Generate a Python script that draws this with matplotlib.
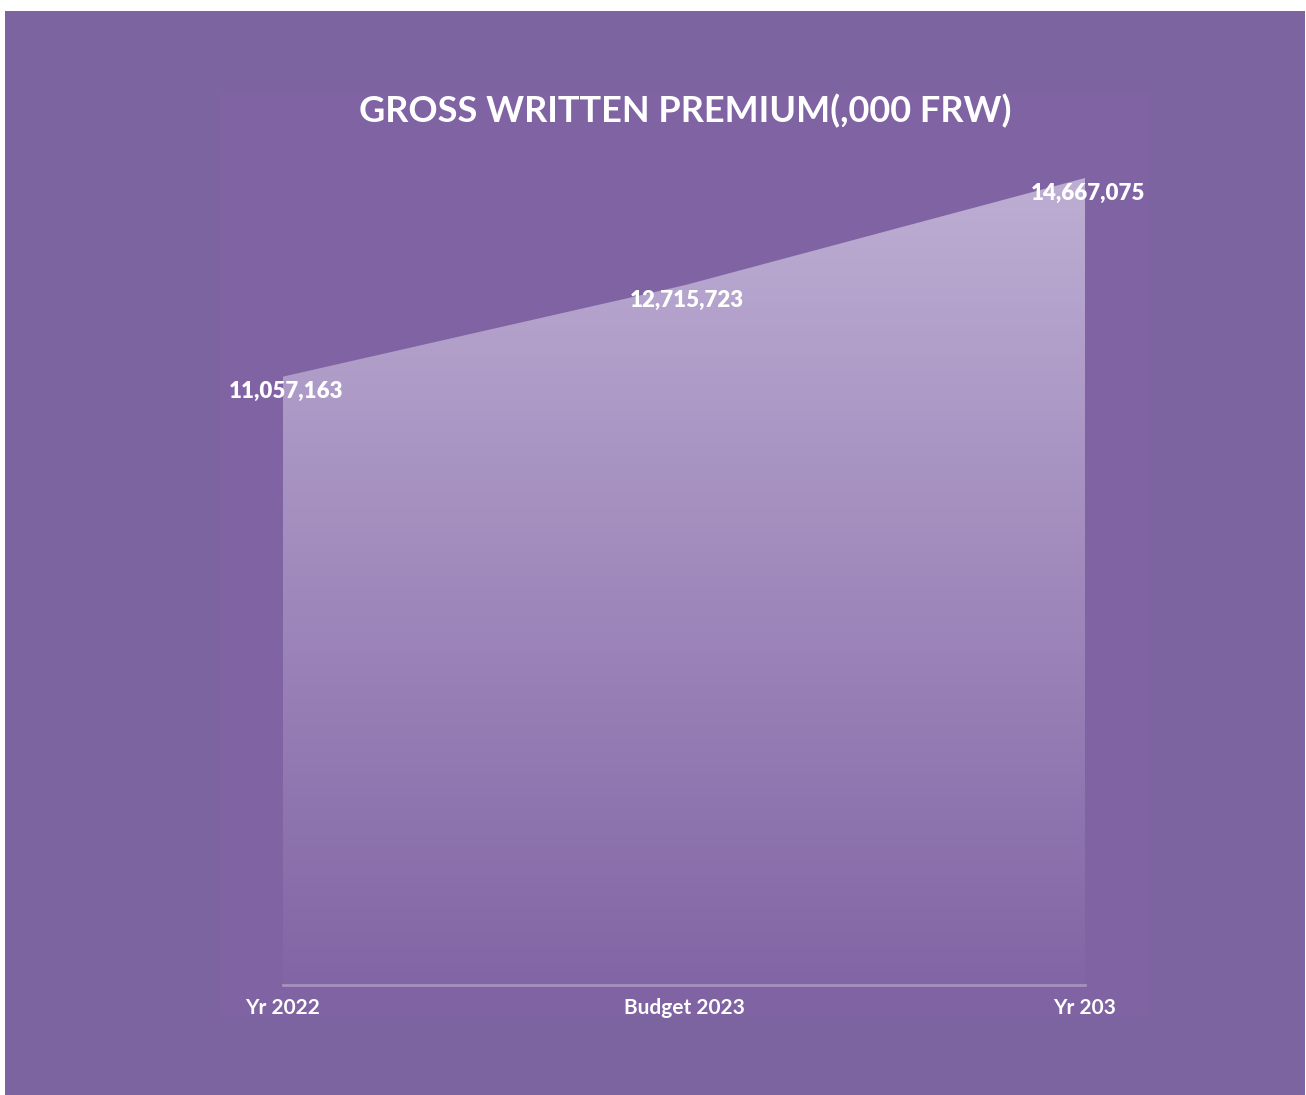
import numpy as np
import matplotlib
matplotlib.use('Agg')
import matplotlib.pyplot as plt
from matplotlib.colors import LinearSegmentedColormap
from matplotlib.patches import Rectangle

# Gross written premium, thousands of FRW
categories = ['Yr 2022', 'Budget 2023', 'Yr 203']
premium = [11057163, 12715723, 14667075]

BG = '#7B64A0'
PANEL = '#7F63A3'
TOP_FILL = '#BDAED3'
BOTTOM_FILL = '#8265A5'

plt.rcParams['font.family'] = ['Lato', 'DejaVu Sans']

fig = plt.figure(figsize=(13.06, 10.95), dpi=100)
fig.patch.set_facecolor('white')

# Purple slide background and the slightly lighter chart panel
fig.add_artist(Rectangle((5 / 1306, 0), 1300 / 1306, 1084 / 1095,
                         transform=fig.transFigure, facecolor=BG,
                         edgecolor='none', zorder=-2))
fig.add_artist(Rectangle((220 / 1306, (1095 - 1017) / 1095), 930 / 1306,
                         924 / 1095, transform=fig.transFigure,
                         facecolor=PANEL, edgecolor='none', zorder=-1))

ax = fig.add_axes([283 / 1306, 110 / 1095, 802 / 1306, 807 / 1095])
ax.set_zorder(1)
ax.set_facecolor('none')
x = np.arange(len(categories))
ax.set_xlim(0, len(categories) - 1)
ax.set_ylim(0, max(premium))

# Area with a vertical gradient, clipped to the filled polygon
poly = ax.fill_between(x, premium, 0, facecolor='none', edgecolor='none')
cmap = LinearSegmentedColormap.from_list('grad', [BOTTOM_FILL, TOP_FILL])
grad = np.linspace(0, 1, 256).reshape(-1, 1)
img = ax.imshow(grad, cmap=cmap, aspect='auto', origin='lower',
                extent=[0, len(categories) - 1, 0, max(premium)], zorder=1)
img.set_clip_path(poly.get_paths()[0], transform=ax.transData)

# Baseline
ax.axhline(0, color='#A592BD', linewidth=2, zorder=2, clip_on=False)

for s in ax.spines.values():
    s.set_visible(False)
ax.set_yticks([])
ax.set_xticks(x)
ax.set_xticklabels(categories, color='white', fontsize=15, fontweight='bold')
ax.tick_params(axis='x', length=0, pad=9)

# Value labels under each point
for xi, v in zip(x, premium):
    ax.annotate(f'{v:,}', (xi, v), xytext=(2, -11),
                textcoords='offset points', ha='center', va='center',
                color='white', fontsize=16, fontweight='heavy', zorder=3)

fig.text(685 / 1306, 1 - 111 / 1095, 'GROSS WRITTEN PREMIUM(,000 FRW)',
         ha='center', va='center', color='white', fontsize=26,
         fontweight='bold')

fig.savefig('out.png', dpi=100, facecolor=fig.get_facecolor())
plt.close(fig)
